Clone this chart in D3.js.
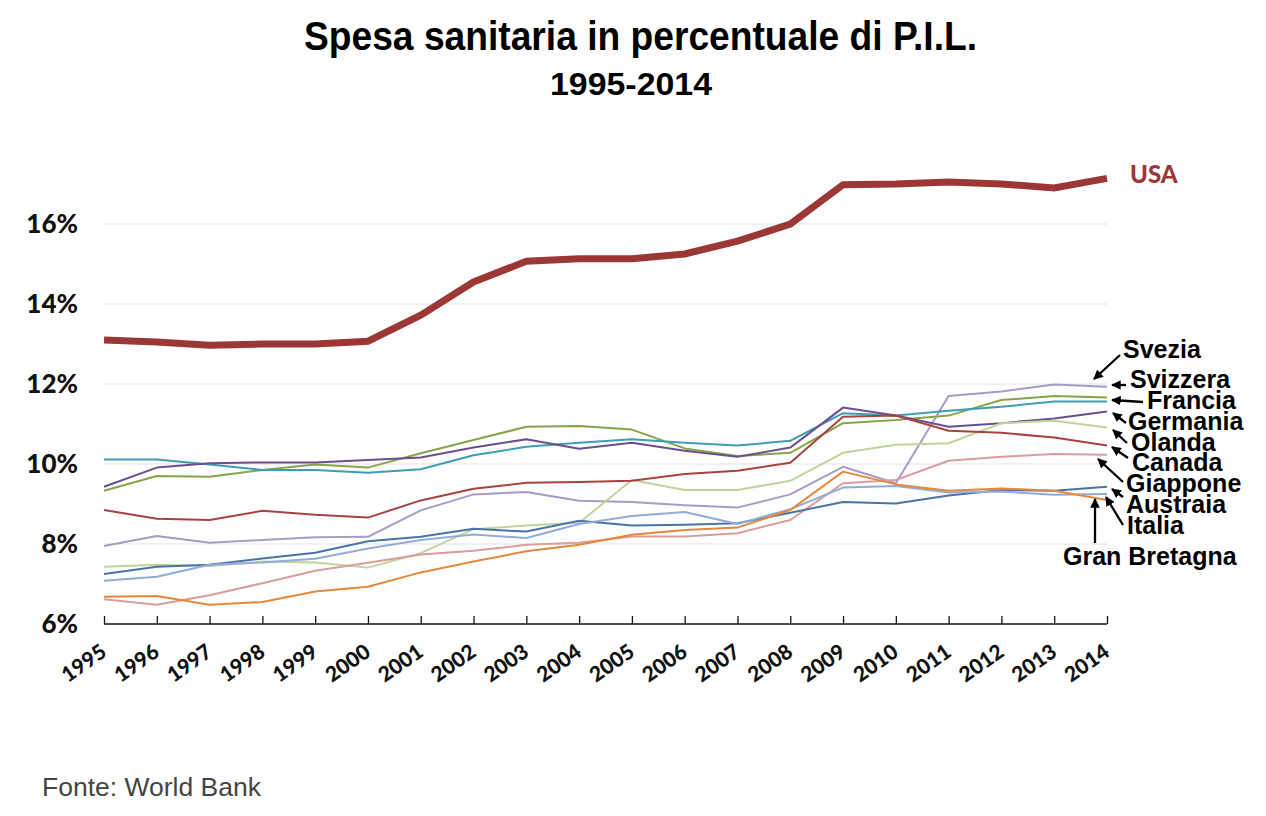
<!DOCTYPE html>
<html>
<head>
<meta charset="utf-8">
<script src="https://cdn.jsdelivr.net/npm/d3@7"></script>
<style>
  html, body { margin: 0; padding: 0; background: #fff; }
  svg { display: block; }
</style>
</head>
<body>
<svg id="chart" width="1266" height="816"></svg>
<script>
// ---------- DATA ----------
const years = [1995,1996,1997,1998,1999,2000,2001,2002,2003,2004,2005,2006,2007,2008,2009,2010,2011,2012,2013,2014];
const yTicks = [6, 8, 10, 12, 14, 16];

const usa          = [13.10,13.05,12.97,13.00,13.00,13.07,13.72,14.55,15.07,15.13,15.13,15.25,15.57,16.00,16.98,17.00,17.05,17.00,16.90,17.14];
const francia      = [10.11,10.11,9.99,9.85,9.85,9.78,9.87,10.22,10.43,10.53,10.62,10.53,10.46,10.58,11.27,11.21,11.33,11.43,11.56,11.56];
const germania     = [9.43,9.91,10.02,10.04,10.04,10.10,10.16,10.41,10.62,10.38,10.53,10.33,10.18,10.41,11.41,11.21,10.93,11.02,11.14,11.31];
const svizzera     = [9.33,9.70,9.68,9.85,9.99,9.91,10.27,10.60,10.93,10.95,10.86,10.39,10.20,10.28,11.02,11.10,11.21,11.60,11.70,11.66];
const canada       = [8.85,8.63,8.60,8.83,8.73,8.66,9.09,9.38,9.53,9.55,9.58,9.75,9.83,10.03,11.18,11.21,10.83,10.78,10.66,10.46];
const olanda       = [7.43,7.48,7.45,7.56,7.54,7.41,7.77,8.37,8.46,8.53,9.60,9.35,9.35,9.58,10.28,10.48,10.52,11.02,11.08,10.91];
const svezia       = [7.95,8.20,8.03,8.10,8.17,8.18,8.84,9.24,9.30,9.08,9.05,8.97,8.91,9.24,9.93,9.52,11.70,11.81,11.99,11.93];
const giappone     = [6.62,6.48,6.72,7.02,7.33,7.53,7.74,7.83,7.98,8.03,8.19,8.19,8.27,8.60,9.52,9.60,10.08,10.18,10.25,10.23];
const austraia     = [7.25,7.43,7.48,7.64,7.78,8.07,8.18,8.38,8.31,8.58,8.46,8.48,8.52,8.78,9.05,9.01,9.21,9.35,9.33,9.43];
const italia       = [7.08,7.18,7.48,7.54,7.63,7.89,8.10,8.24,8.15,8.50,8.70,8.80,8.50,8.87,9.41,9.45,9.29,9.31,9.23,9.25];
const granBretagna = [6.68,6.70,6.48,6.55,6.81,6.93,7.29,7.56,7.82,7.98,8.23,8.35,8.41,8.85,9.81,9.49,9.33,9.39,9.33,9.10];

const seriesNames = ["Svezia","Svizzera","Francia","Germania","Olanda","Canada","Giappone","Austraia","Italia","Gran Bretagna"];
const seriesValues = [svezia, svizzera, francia, germania, olanda, canada, giappone, austraia, italia, granBretagna];
const seriesColors = ["#a99bc5","#88a44b","#3f9cb3","#6c4f8f","#c0d49b","#a8423f","#d99d9b","#4a73a8","#92abd8","#e4893c"];

// ---------- LAYOUT ----------
const svg = d3.select("#chart");
const W = 1266, H = 816;
const mL = 104, mR = 1107, mT = 144, mB = 624;

svg.append("rect").attr("width", W).attr("height", H).attr("fill", "#fff");

const x = d3.scaleLinear().domain([1995, 2014]).range([mL, mR]);
const y = d3.scaleLinear().domain([6, 18]).range([mB, mT]);

// gridlines
svg.append("g")
  .selectAll("line")
  .data(yTicks.filter(t => t > 6))
  .join("line")
  .attr("x1", mL).attr("x2", mR)
  .attr("y1", d => y(d)).attr("y2", d => y(d))
  .attr("stroke", "#e2e2e2").attr("stroke-width", 1.2);

// y labels
svg.append("g")
  .selectAll("text")
  .data(yTicks)
  .join("text")
  .attr("x", 78).attr("y", d => y(d))
  .attr("dy", "0.36em")
  .attr("text-anchor", "end")
  .attr("font-family", "Lato, 'Open Sans', sans-serif")
  .attr("font-weight", 900)
  .attr("font-size", 26)
  .attr("fill", "#111")
  .text(d => d + "%");

// x axis
const xAxis = d3.axisBottom(x)
  .tickValues(years)
  .tickSize(-8)
  .tickFormat("");
const gx = svg.append("g").attr("transform", `translate(0,${mB})`).call(xAxis);
gx.select(".domain").attr("stroke", "#111").attr("stroke-width", 1.6).attr("d", `M${mL},0H${mR}`);
gx.selectAll(".tick line").attr("stroke", "#111").attr("stroke-width", 1.3);

svg.append("g")
  .selectAll("text")
  .data(years)
  .join("text")
  .attr("transform", d => `translate(${x(d) + 4},${mB + 31}) rotate(-35)`)
  .attr("text-anchor", "end")
  .attr("font-family", "Lato, 'Open Sans', sans-serif")
  .attr("font-weight", 900)
  .attr("font-size", 21)
  .attr("fill", "#111")
  .text(d => d);

// lines
const line = d3.line()
  .x((d, i) => x(years[i]))
  .y(d => y(d));

svg.append("g")
  .selectAll("path")
  .data(seriesValues)
  .join("path")
  .attr("d", d => line(d))
  .attr("fill", "none")
  .attr("stroke", (d, i) => seriesColors[i])
  .attr("stroke-width", 2)
  .attr("stroke-linejoin", "round");

svg.append("path")
  .attr("d", line(usa))
  .attr("fill", "none")
  .attr("stroke", "#9b3835")
  .attr("stroke-width", 7)
  .attr("stroke-linejoin", "miter");

svg.append("text")
  .attr("x", 1130).attr("y", 183)
  .attr("font-family", "Lato, 'Open Sans', sans-serif")
  .attr("font-weight", 900)
  .attr("font-size", 24)
  .attr("fill", "#9b3835")
  .text("USA");

// annotations (labels + arrows)
const labelPos = [
  {tx:1123, ty:358, ax1:1120, ay1:355, ax2:1094, ay2:379},
  {tx:1130, ty:388, ax1:1126, ay1:385, ax2:1112, ay2:385},
  {tx:1147, ty:409, ax1:1143, ay1:402, ax2:1112, ay2:400},
  {tx:1128, ty:430, ax1:1126, ay1:423, ax2:1113, ay2:413},
  {tx:1131, ty:451, ax1:1127, ay1:443, ax2:1113, ay2:430},
  {tx:1132, ty:471, ax1:1128, ay1:458, ax2:1112, ay2:447},
  {tx:1126, ty:492, ax1:1123, ay1:482, ax2:1098, ay2:459},
  {tx:1126, ty:513, ax1:1123, ay1:497, ax2:1112, ay2:489},
  {tx:1127, ty:534, ax1:1123, ay1:525, ax2:1106, ay2:497},
  {tx:1063, ty:565, ax1:1095, ay1:543, ax2:1095, ay2:499}
];

svg.append("defs").append("marker")
  .attr("id", "ah")
  .attr("viewBox", "0 0 10 10")
  .attr("refX", 9).attr("refY", 5)
  .attr("markerWidth", 4.2).attr("markerHeight", 4.2)
  .attr("markerUnits", "strokeWidth")
  .attr("orient", "auto")
  .append("path")
  .attr("d", "M0,0L10,5L0,10z")
  .attr("fill", "#000");

const ann = svg.append("g");
ann.selectAll("line")
  .data(labelPos)
  .join("line")
  .attr("x1", d => d.ax1).attr("y1", d => d.ay1)
  .attr("x2", d => d.ax2).attr("y2", d => d.ay2)
  .attr("stroke", "#000").attr("stroke-width", 2.3)
  .attr("marker-end", "url(#ah)");

ann.selectAll("text")
  .data(labelPos)
  .join("text")
  .attr("x", d => d.tx).attr("y", d => d.ty)
  .attr("font-family", "'Liberation Sans', Arial, sans-serif")
  .attr("font-weight", 700)
  .attr("font-size", 25)
  .attr("fill", "#000")
  .text((d, i) => seriesNames[i]);

// titles
svg.append("text")
  .attr("x", 304).attr("y", 50)
  .attr("textLength", 673).attr("lengthAdjust", "spacingAndGlyphs")
  .attr("font-family", "'Liberation Sans', Arial, sans-serif")
  .attr("font-weight", 700)
  .attr("font-size", 40)
  .attr("fill", "#000")
  .text("Spesa sanitaria in percentuale di P.I.L.");

svg.append("text")
  .attr("x", 550).attr("y", 95)
  .attr("textLength", 162).attr("lengthAdjust", "spacingAndGlyphs")
  .attr("font-family", "'Liberation Sans', Arial, sans-serif")
  .attr("font-weight", 700)
  .attr("font-size", 32)
  .attr("fill", "#000")
  .text("1995-2014");

svg.append("text")
  .attr("x", 42).attr("y", 796)
  .attr("font-family", "'Liberation Sans', Arial, sans-serif")
  .attr("font-size", 26.5)
  .attr("fill", "#444")
  .text("Fonte: World Bank");
</script>
</body>
</html>
